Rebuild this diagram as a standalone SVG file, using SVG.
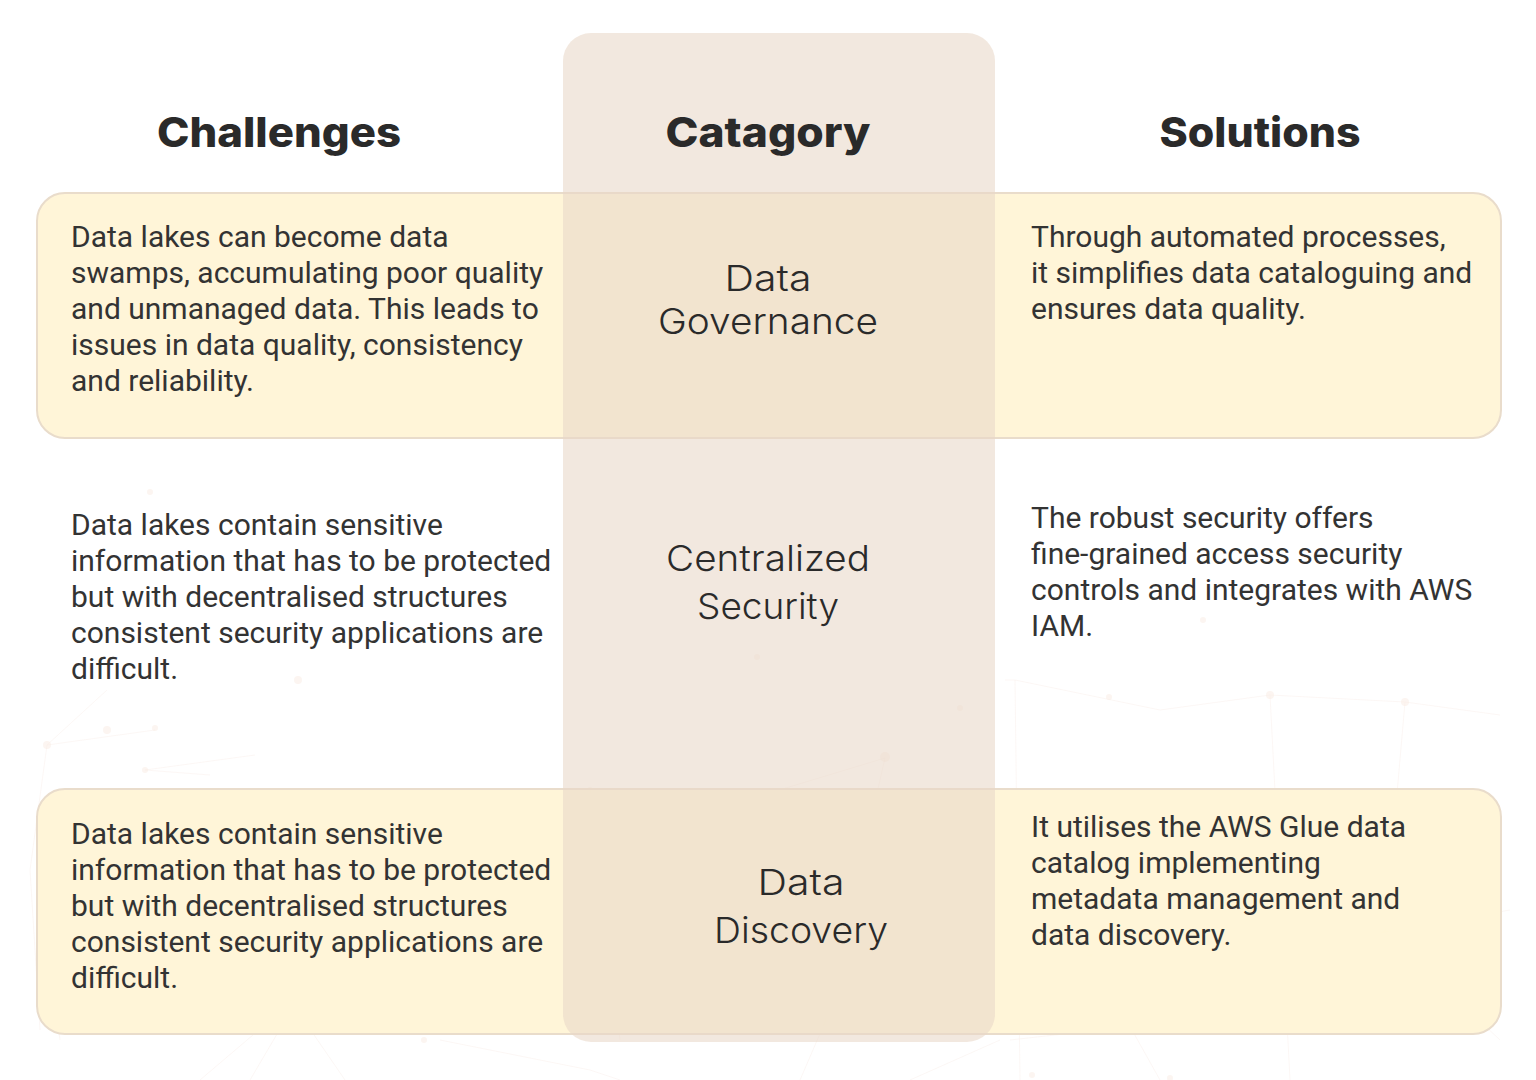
<svg xmlns="http://www.w3.org/2000/svg" width="1536" height="1080" viewBox="0 0 1536 1080">
<style>
.bg{fill:#ffffff}
.net{stroke:#f8eee8;stroke-width:1;fill:none;opacity:.45}
.dot{fill:#f9ebe4;opacity:.5}
.band{fill:#fff4d6;fill-opacity:.94;stroke:#e9dccb;stroke-width:2}
.col{fill:#e9d8c8;fill-opacity:.58}
.h{font-family:Inter,"Liberation Sans",sans-serif;font-weight:800;font-size:41px;fill:#2a2a2a;text-anchor:middle}
.c{font-family:Inter,"Liberation Sans",sans-serif;font-weight:350;font-size:36px;fill:#2a2a2a;text-anchor:middle}
.b{font-family:Roboto,"Liberation Sans",sans-serif;font-weight:400;font-size:30px;fill:#333333}
</style>
<rect class="bg" width="1536" height="1080"/>
<g id="texture">
<path class="net" d="M47 745L30 870L40 1030M47 745L107 690M145 770L255 755M210 775L145 770M47 745L155 730M60 1040L40 890M200 1080L300 995L250 1080M290 1000L345 1080M440 1040L590 1070L620 1080M590 790L620 1040M885 758L825 1022L800 1080M885 758L680 820M1005 680L1015 680L1160 710M1015 680L1020 1080M1160 710L1270 695L1405 702L1500 715M1270 695L1290 1080M1405 702L1385 932L1090 955L1000 985M1385 932L1510 910M1090 955L1160 1080M1385 932L1500 1040M1270 1020L1100 1030L1010 1040M910 1080L1000 1040"/>
<circle class="dot" cx="47" cy="745" r="4"/><circle class="dot" cx="107" cy="730" r="4"/><circle class="dot" cx="155" cy="728" r="3"/><circle class="dot" cx="145" cy="770" r="3"/><circle class="dot" cx="298" cy="680" r="4"/><circle class="dot" cx="198" cy="885" r="3"/><circle class="dot" cx="292" cy="997" r="4"/><circle class="dot" cx="424" cy="1040" r="3"/><circle class="dot" cx="590" cy="790" r="3"/><circle class="dot" cx="581" cy="950" r="5"/><circle class="dot" cx="885" cy="757" r="5"/><circle class="dot" cx="825" cy="1022" r="4"/><circle class="dot" cx="960" cy="708" r="3"/><circle class="dot" cx="757" cy="657" r="3"/><circle class="dot" cx="1109" cy="697" r="3"/><circle class="dot" cx="1270" cy="695" r="4"/><circle class="dot" cx="1203" cy="620" r="3"/><circle class="dot" cx="1405" cy="702" r="4"/><circle class="dot" cx="1456" cy="378" r="3"/><circle class="dot" cx="1385" cy="932" r="4"/><circle class="dot" cx="1090" cy="955" r="3"/><circle class="dot" cx="1032" cy="1075" r="3"/><circle class="dot" cx="1170" cy="1078" r="3"/><circle class="dot" cx="150" cy="492" r="3"/>
</g>
<g id="band-1"><rect class="band" x="37" y="193" width="1464" height="245" rx="28"/></g>
<g id="band-3"><rect class="band" x="37" y="789" width="1464" height="245" rx="28"/></g>
<g id="category-column"><rect class="col" x="563" y="33" width="432" height="1009" rx="28"/></g>
<g id="headers">
<text class="h" x="279" y="147" textLength="244" lengthAdjust="spacingAndGlyphs">Challenges</text>
<text class="h" x="768" y="147" textLength="205" lengthAdjust="spacingAndGlyphs">Catagory</text>
<text class="h" x="1260" y="147" textLength="201" lengthAdjust="spacingAndGlyphs">Solutions</text>
</g>
<g id="row-1">
<text class="b" x="71" y="247">Data lakes can become data</text>
<text class="b" x="71" y="283">swamps, accumulating poor quality</text>
<text class="b" x="71" y="319">and unmanaged data. This leads to</text>
<text class="b" x="71" y="355">issues in data quality, consistency</text>
<text class="b" x="71" y="391">and reliability.</text>
<text class="c" x="768" y="291" textLength="87" lengthAdjust="spacingAndGlyphs">Data</text>
<text class="c" x="768" y="334" textLength="220" lengthAdjust="spacingAndGlyphs">Governance</text>
<text class="b" x="1031" y="247">Through automated processes,</text>
<text class="b" x="1031" y="283">it simplifies data cataloguing and</text>
<text class="b" x="1031" y="319">ensures data quality.</text>
</g>
<g id="row-2">
<text class="b" x="71" y="535">Data lakes contain sensitive</text>
<text class="b" x="71" y="571">information that has to be protected</text>
<text class="b" x="71" y="607">but with decentralised structures</text>
<text class="b" x="71" y="643">consistent security applications are</text>
<text class="b" x="71" y="679">difficult.</text>
<text class="c" x="768" y="571" textLength="204" lengthAdjust="spacingAndGlyphs">Centralized</text>
<text class="c" x="768" y="619" textLength="142" lengthAdjust="spacingAndGlyphs">Security</text>
<text class="b" x="1031" y="528">The robust security offers</text>
<text class="b" x="1031" y="564">fine-grained access security</text>
<text class="b" x="1031" y="600">controls and integrates with AWS</text>
<text class="b" x="1031" y="636">IAM.</text>
</g>
<g id="row-3">
<text class="b" x="71" y="844">Data lakes contain sensitive</text>
<text class="b" x="71" y="880">information that has to be protected</text>
<text class="b" x="71" y="916">but with decentralised structures</text>
<text class="b" x="71" y="952">consistent security applications are</text>
<text class="b" x="71" y="988">difficult.</text>
<text class="c" x="801" y="895" textLength="87" lengthAdjust="spacingAndGlyphs">Data</text>
<text class="c" x="801" y="943" textLength="174" lengthAdjust="spacingAndGlyphs">Discovery</text>
<text class="b" x="1031" y="837">It utilises the AWS Glue data</text>
<text class="b" x="1031" y="873">catalog implementing</text>
<text class="b" x="1031" y="909">metadata management and</text>
<text class="b" x="1031" y="945">data discovery.</text>
</g>
</svg>
